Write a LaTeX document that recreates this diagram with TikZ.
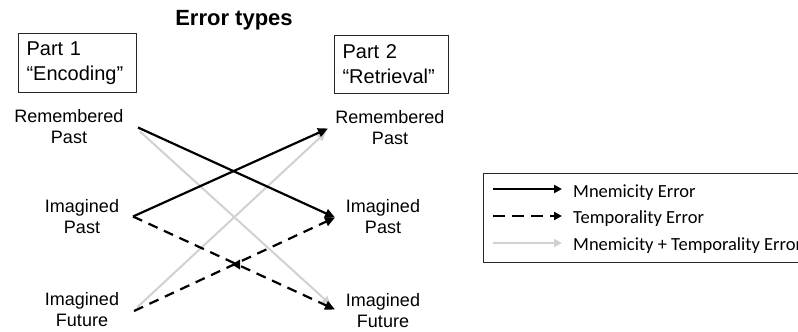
\documentclass[tikz,border=0pt]{standalone}
\usepackage{fontspec}
\setmainfont{Liberation Sans}
\newfontfamily\legfont{Carlito}
\usetikzlibrary{arrows.meta}
\definecolor{lightgr}{gray}{0.82}
\begin{document}
\begin{tikzpicture}[x=1pt,y=-1pt,
  lbl/.style={font=\fontsize{18}{20.5}\selectfont, align=center, inner sep=0pt},
  partbox/.style={draw=black!85, line width=1.1pt, font=\fontsize{20}{25}\selectfont,
    align=left, inner xsep=8pt, inner ysep=0pt, anchor=north west},
  mne/.style={line width=2.2pt, -{Triangle[length=10pt,width=9pt]}},
  tmp/.style={mne, dash pattern=on 10pt off 7pt},
  both/.style={line width=2pt, lightgr, -{Triangle[length=9pt,width=8pt]}},
  legtxt/.style={font=\legfont\fontsize{18.5}{20}\selectfont, anchor=base west, inner sep=0pt}]
\clip (0,0) rectangle (798,332);
\fill[white] (0,0) rectangle (798,332);

% title
\node[font=\bfseries\fontsize{22}{24}\selectfont, anchor=base, inner sep=0pt] (title) at (234,25) {Error types};

% part boxes
\node[partbox, minimum width=118pt, minimum height=59pt, text width=102pt] (p1) at (18,33) {Part 1\\``Encoding''};
\node[partbox, minimum width=114pt, minimum height=58pt, text width=98pt] (p2) at (334,35) {Part 2\\``Retrieval''};

% labels (base = baseline of the last line)
\node[lbl, anchor=base] (lRP) at (69,143) {Remembered\\Past};
\node[lbl, anchor=base] (lIP) at (82,233) {Imagined\\Past};
\node[lbl, anchor=base] (lIF) at (82,326) {Imagined\\Future};
\node[lbl, anchor=base] (rRP) at (390,144) {Remembered\\Past};
\node[lbl, anchor=base] (rIP) at (383,233) {Imagined\\Past};
\node[lbl, anchor=base] (rIF) at (383,327) {Imagined\\Future};

% connector end points
\coordinate (sRP) at (138,127.5);
\coordinate (sIP) at (133,216.5);
\coordinate (sIF) at (134,311);
\coordinate (eRP) at (328,128.5);
\coordinate (eIP) at (335,217.5);
\coordinate (eIF) at (335,309.5);
\coordinate (gRPs) at (140,131.5);
\coordinate (gIFe) at (331,305);
\coordinate (gIFs) at (137,307.5);
\coordinate (gRPe) at (326,132);
\coordinate (mid) at (232,264.5);

% connectors
\draw[both] (gRPs) -- (gIFe);
\draw[both] (gIFs) -- (gRPe);
\draw[tmp] (sIP) -- (eIF);
\draw[tmp] (sIF) -- (eIP);
\fill (mid) -- ++(8,-5) -- ++(0,10) -- cycle;
\draw[mne] (sRP) -- (eIP);
\draw[mne] (sIP) -- (eRP);

% legend
\node[draw=black!85, line width=1.1pt, anchor=north west, minimum width=360pt, minimum height=89pt, inner sep=0pt] (leg) at (483,173) {};
\coordinate (l1a) at (493,189); \coordinate (l1b) at (562,189);
\coordinate (l2a) at (493,216); \coordinate (l2b) at (562,216);
\coordinate (l3a) at (493,243); \coordinate (l3b) at (562,243);
\draw[line width=2pt, -{Triangle[length=8pt,width=8pt]}] (l1a) -- (l1b);
\draw[line width=2.2pt, dash pattern=on 12pt off 7pt, -{Triangle[length=8pt,width=8pt]}] (l2a) -- (l2b);
\draw[line width=2pt, lightgr, -{Triangle[length=8pt,width=8pt]}] (l3a) -- (l3b);
\node[legtxt] (t1) at (573,197) {Mnemicity Error};
\node[legtxt] (t2) at (573,223) {Temporality Error};
\node[legtxt] (t3) at (573,250) {Mnemicity + Temporality Error};
\end{tikzpicture}
\end{document}
